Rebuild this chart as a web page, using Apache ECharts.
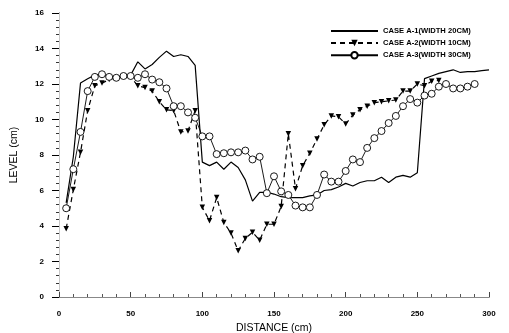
<!DOCTYPE html>
<html>
<head>
<meta charset="utf-8">
<script src="https://cdn.jsdelivr.net/npm/echarts@6/dist/echarts.min.js"></script>
<style>html,body{margin:0;padding:0;background:#fff;}#c{width:509px;height:333px;}</style>
</head>
<body>
<div id="c"></div>
<script>
const distA1 = [5,10,15,20,25,30,35,40,45,50,55,60,65,70,75,80,85,90,95,100,105,110,115,120,125,130,135,140,145,150,155,160,165,170,175,180,185,190,195,200,205,210,215,220,225,230,235,240,245,250,255,260,265,270,275,280,285,290,295,300];
const levelA1 = [5.3,7.9,12.05,12.3,12.5,12.55,12.4,12.4,12.45,12.5,
13.25,12.85,13.1,13.5,13.85,13.55,13.65,13.55,13.05,7.6,
7.4,7.6,7.2,7.6,7.3,6.6,5.4,5.9,5.9,5.8,
5.65,5.6,5.6,5.6,5.7,5.75,6.0,6.05,6.2,6.4,
6.25,6.45,6.55,6.55,6.75,6.45,6.75,6.85,6.75,7.0,
12.3,12.45,12.6,12.7,12.8,12.65,12.7,12.7,12.75,12.8];

const distA2 = [5,10,15,20,25,30,35,40,45,50,55,60,65,70,75,80,85,90,95,100,105,110,115,120,125,130,135,140,145,150,155,160,165,170,175,180,185,190,195,200,205,210,215,220,225,230,235,240,245,250,255,260,265];
const levelA2 = [3.85,6.05,8.15,10.5,11.9,12.05,12.25,12.35,12.4,12.4,
11.9,11.8,11.6,11.0,10.55,10.5,9.3,9.35,10.5,5.05,
4.3,5.6,4.2,3.6,2.6,3.3,3.65,3.2,4.1,4.1,
5.1,9.2,6.1,7.4,8.1,8.9,9.7,10.2,10.15,9.75,
10.25,10.55,10.75,10.95,11.0,11.05,11.1,11.6,11.6,12.0,
11.9,12.15,12.2];

const distA3 = [5,10,15,20,25,30,35,40,45,50,55,60,65,70,75,80,85,90,95,100,105,110,115,120,125,130,135,140,145,150,155,160,165,170,175,180,185,190,195,200,205,210,215,220,225,230,235,240,245,250,255,260,265,270,275,280,285,290];
const levelA3 = [5.0,7.2,9.3,11.6,12.4,12.55,12.4,12.35,12.45,12.45,
12.35,12.55,12.25,12.1,11.75,10.75,10.75,10.4,10.1,9.05,
9.05,8.05,8.1,8.15,8.15,8.25,7.75,7.9,5.85,6.8,
5.95,5.75,5.15,5.05,5.05,5.75,6.9,6.5,6.5,7.1,
7.75,7.6,8.4,8.95,9.35,9.8,10.2,10.75,11.15,10.95,
11.35,11.45,11.85,12.0,11.75,11.75,11.85,12.0];

const seriesNames = ['CASE A-1(WIDTH 20CM)','CASE A-2(WIDTH 10CM)','CASE A-3(WIDTH 30CM)'];
const xTitle = 'DISTANCE (cm)';
const yTitle = 'LEVEL (cm)';

function pairs(xs, ys){ return xs.map((x,i)=>[x, ys[i]]); }

const font = 'Liberation Sans, Arial, sans-serif';
const chart = echarts.init(document.getElementById('c'), null, {renderer:'canvas'});
chart.setOption({
  animation: false,
  backgroundColor: '#fff',
  grid: {left: 59, right: 20, top: 13, bottom: 36, containLabel: false, outerBoundsMode: 'none'},
  legend: {
    orient: 'vertical', left: 325, top: 22,
    itemWidth: 47, itemHeight: 8, itemGap: 4,
    textStyle: {fontFamily: font, fontSize: 7.6, fontWeight: 'bold', color: '#000'},
    data: [
      {name: seriesNames[0], itemStyle: {color: 'rgba(0,0,0,0)', borderColor: 'rgba(0,0,0,0)', borderWidth: 0}},
      {name: seriesNames[1]},
      {name: seriesNames[2]}
    ]
  },
  xAxis: [{
    type: 'value', min: 0, max: 300, interval: 50,
    name: xTitle, nameLocation: 'middle', nameGap: 26,
    nameTextStyle: {fontFamily: font, fontSize: 10.5, color: '#000'},
    axisLine: {show: true, lineStyle: {color: '#444', width: 1}},
    axisTick: {show: true, inside: true, length: 5, lineStyle: {color: '#444'}},
    minorTick: {show: true, splitNumber: 5, length: 3, lineStyle: {color: '#555'}},
    axisLabel: {fontFamily: font, fontSize: 8, fontWeight: 'bold', color: '#000', margin: 13},
    splitLine: {show: false}
  },{
    type: 'value', min: 0, max: 300, position: 'top',
    axisLine: {show: true, lineStyle: {color: '#888', width: 1}},
    axisTick: {show: false}, axisLabel: {show: false}, splitLine: {show: false}
  }],
  yAxis: [{
    type: 'value', min: 0, max: 16, interval: 2, offset: 2,
    name: yTitle, nameLocation: 'middle', nameGap: 37, nameRotate: 90,
    nameTextStyle: {fontFamily: font, fontSize: 10.5, color: '#000'},
    axisLine: {show: true, lineStyle: {color: '#000', width: 1}},
    axisTick: {show: true, inside: false, length: 7, lineStyle: {color: '#000'}},
    minorTick: {show: true, splitNumber: 5, length: 3, lineStyle: {color: '#333'}},
    axisLabel: {fontFamily: font, fontSize: 8, fontWeight: 'bold', color: '#000', margin: 13},
    splitLine: {show: false}
  },{
    type: 'value', min: 0, max: 16, position: 'right',
    axisLine: {show: true, lineStyle: {color: '#c8c8c8', width: 1}},
    axisTick: {show: false}, axisLabel: {show: false}, splitLine: {show: false}
  }],
  series: [{
    name: seriesNames[0], type: 'line', data: pairs(distA1, levelA1),
    showSymbol: false, symbol: 'none',
    lineStyle: {color: '#000', width: 1.2, type: 'solid'},
    itemStyle: {color: '#000'}
  },{
    name: seriesNames[1], type: 'line', data: pairs(distA2, levelA2),
    symbol: 'triangle', symbolRotate: 180, symbolSize: 5.5,
    lineStyle: {color: '#000', width: 1.2, type: [5,4]},
    itemStyle: {color: '#000', borderWidth: 0}
  },{
    name: seriesNames[2], type: 'line', data: pairs(distA3, levelA3),
    symbol: 'circle', symbolSize: 7,
    lineStyle: {color: '#000', width: 0.9, type: 'solid'},
    itemStyle: {color: '#fff', borderColor: '#000', borderWidth: 0.9}
  }]
});
</script>
</body>
</html>
